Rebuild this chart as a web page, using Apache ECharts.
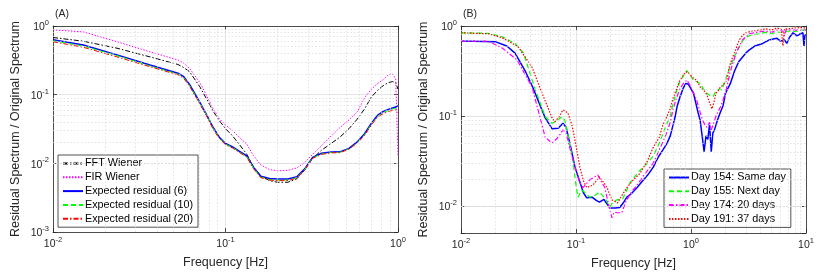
<!DOCTYPE html>
<html><head><meta charset="utf-8">
<script src="https://cdn.jsdelivr.net/npm/echarts@6/dist/echarts.min.js"></script>
<style>html,body{margin:0;padding:0;background:#fff}#c{width:822px;height:278px}</style>
</head><body><div id="c"></div><script>
// ---------- Panel A data ----------
const freqA = [0.01,0.015,0.0235,0.0365,0.053,0.057,0.062,0.071,0.078,0.085,0.092,0.1,0.11,0.12,0.133,0.145,0.16,0.18,0.2,0.23,0.26,0.29,0.32,0.36,0.41,0.46,0.52,0.58,0.64,0.7,0.76,0.82,0.88,0.93,0.97,1.0];
const fftWiener = [0.68,0.60,0.475,0.355,0.275,0.25,0.215,0.13,0.085,0.057,0.042,0.032,0.025,0.019,0.0135,0.009,0.0066,0.0056,0.0053,0.0053,0.006,0.0082,0.0118,0.0155,0.0195,0.024,0.032,0.044,0.062,0.092,0.115,0.135,0.15,0.155,0.15,0.12];
const firWiener = [0.88,0.82,0.59,0.42,0.32,0.29,0.24,0.15,0.095,0.062,0.045,0.036,0.03,0.024,0.019,0.013,0.0095,0.0081,0.0078,0.0079,0.0086,0.0105,0.0135,0.018,0.025,0.033,0.043,0.056,0.09,0.12,0.145,0.165,0.195,0.2,0.17,0.013];
const expRes6 = [0.63,0.53,0.38,0.27,0.205,0.185,0.14,0.077,0.05,0.033,0.024,0.0195,0.0173,0.015,0.0128,0.0088,0.0065,0.006,0.0059,0.0059,0.0064,0.0085,0.0122,0.014,0.0146,0.0147,0.0165,0.0205,0.027,0.038,0.05,0.057,0.061,0.064,0.066,0.07];
const expRes10 = [0.61,0.51,0.37,0.262,0.2,0.18,0.135,0.075,0.049,0.032,0.0235,0.019,0.017,0.0147,0.0125,0.0086,0.0063,0.0058,0.0057,0.0057,0.0062,0.0083,0.012,0.0137,0.0144,0.0145,0.0162,0.02,0.026,0.037,0.048,0.055,0.059,0.062,0.063,0.064];
const expRes20 = [0.59,0.49,0.355,0.255,0.195,0.175,0.132,0.073,0.048,0.031,0.023,0.0187,0.0167,0.0145,0.0123,0.0084,0.0062,0.0057,0.0056,0.0056,0.0061,0.0082,0.0118,0.0135,0.0142,0.0143,0.016,0.0197,0.0255,0.036,0.047,0.053,0.057,0.059,0.06,0.055];
const namesA = ['FFT Wiener','FIR Wiener','Expected residual (6)','Expected residual (10)','Expected residual (20)'];

// ---------- Panel B data ([frequency, ratio]) ----------
const day154 = [[0.01,0.68],[0.0198,0.67],[0.025,0.6],[0.0295,0.5],[0.036,0.32],[0.042,0.21],[0.0467,0.15],[0.054,0.095],[0.062,0.072],[0.07,0.073],[0.077,0.083],[0.082,0.075],[0.09,0.045],[0.098,0.027],[0.108,0.0185],[0.116,0.014],[0.124,0.0123],[0.138,0.0125],[0.15,0.0115],[0.16,0.011],[0.175,0.0118],[0.197,0.0095],[0.22,0.0095],[0.24,0.0096],[0.26,0.011],[0.277,0.0125],[0.3,0.0135],[0.34,0.016],[0.38,0.019],[0.42,0.022],[0.47,0.027],[0.52,0.035],[0.57,0.042],[0.62,0.05],[0.66,0.06],[0.7,0.08],[0.73,0.1],[0.76,0.13],[0.8,0.16],[0.85,0.2],[0.9,0.23],[0.95,0.225],[1.0,0.2],[1.05,0.18],[1.1,0.14],[1.15,0.11],[1.2,0.09],[1.25,0.06],[1.3,0.04],[1.35,0.06],[1.4,0.055],[1.45,0.08],[1.5,0.04],[1.55,0.065],[1.6,0.07],[1.7,0.09],[1.8,0.11],[1.9,0.13],[2.0,0.18],[2.2,0.23],[2.4,0.32],[2.6,0.4],[2.8,0.45],[3.0,0.5],[3.2,0.54],[3.6,0.6],[4.2,0.64],[4.8,0.7],[5.3,0.72],[5.6,0.73],[6.0,0.68],[6.5,0.7],[6.8,0.64],[7.2,0.75],[7.7,0.84],[8.3,0.78],[9.0,0.82],[9.4,0.84],[9.6,0.6],[9.8,0.8],[10,0.8]];
const day155 = [[0.01,0.84],[0.0172,0.83],[0.0228,0.76],[0.0295,0.64],[0.035,0.5],[0.044,0.2],[0.054,0.098],[0.062,0.083],[0.068,0.088],[0.075,0.098],[0.08,0.09],[0.088,0.05],[0.094,0.032],[0.1,0.017],[0.104,0.0125],[0.112,0.015],[0.12,0.014],[0.132,0.0125],[0.145,0.013],[0.16,0.0143],[0.18,0.012],[0.197,0.0098],[0.21,0.011],[0.227,0.0117],[0.255,0.012],[0.295,0.018],[0.35,0.024],[0.4,0.028],[0.47,0.036],[0.53,0.05],[0.6,0.075],[0.66,0.1],[0.7,0.14],[0.75,0.19],[0.8,0.24],[0.86,0.28],[0.92,0.32],[0.98,0.29],[1.05,0.25],[1.12,0.24],[1.2,0.23],[1.28,0.2],[1.37,0.18],[1.45,0.17],[1.56,0.165],[1.65,0.19],[1.75,0.2],[1.86,0.195],[2.0,0.26],[2.18,0.35],[2.4,0.47],[2.63,0.58],[2.8,0.68],[3.0,0.75],[3.4,0.8],[3.9,0.82],[4.5,0.85],[5.0,0.82],[5.6,0.86],[6.3,0.84],[7,0.88],[8,0.87],[9.4,0.9],[10,0.9]];
const day174 = [[0.01,0.68],[0.0172,0.68],[0.0228,0.57],[0.0307,0.42],[0.0414,0.21],[0.0465,0.12],[0.054,0.058],[0.062,0.05],[0.07,0.058],[0.077,0.07],[0.082,0.065],[0.09,0.04],[0.098,0.027],[0.108,0.018],[0.115,0.016],[0.132,0.0195],[0.155,0.022],[0.165,0.019],[0.178,0.016],[0.19,0.011],[0.205,0.0074],[0.215,0.0085],[0.227,0.0084],[0.25,0.0084],[0.27,0.011],[0.3,0.014],[0.35,0.018],[0.4,0.023],[0.47,0.03],[0.53,0.042],[0.6,0.06],[0.66,0.085],[0.7,0.12],[0.75,0.16],[0.8,0.2],[0.86,0.23],[0.92,0.25],[0.98,0.22],[1.05,0.18],[1.12,0.15],[1.2,0.11],[1.26,0.09],[1.32,0.08],[1.37,0.075],[1.45,0.085],[1.5,0.07],[1.56,0.08],[1.65,0.1],[1.8,0.126],[1.9,0.15],[2.05,0.21],[2.18,0.3],[2.3,0.38],[2.5,0.52],[2.8,0.7],[3.2,0.82],[3.9,0.86],[4.5,0.88],[5.0,0.85],[5.6,0.9],[6.3,0.88],[6.5,0.78],[6.7,0.9],[8,0.9],[9.4,0.9],[10,0.9]];
const day191 = [[0.01,0.84],[0.0172,0.82],[0.0228,0.74],[0.0313,0.59],[0.0414,0.35],[0.0506,0.18],[0.062,0.095],[0.0656,0.086],[0.072,0.1],[0.077,0.117],[0.085,0.108],[0.092,0.08],[0.098,0.054],[0.108,0.027],[0.116,0.019],[0.124,0.016],[0.14,0.017],[0.16,0.021],[0.175,0.018],[0.186,0.016],[0.205,0.0117],[0.23,0.0108],[0.25,0.013],[0.277,0.016],[0.31,0.019],[0.36,0.023],[0.42,0.032],[0.47,0.045],[0.53,0.058],[0.57,0.08],[0.62,0.1],[0.66,0.12],[0.7,0.16],[0.75,0.2],[0.8,0.25],[0.85,0.28],[0.9,0.31],[0.95,0.3],[1.0,0.28],[1.06,0.26],[1.12,0.25],[1.2,0.21],[1.3,0.19],[1.38,0.17],[1.45,0.14],[1.52,0.12],[1.58,0.14],[1.65,0.18],[1.72,0.19],[1.8,0.21],[1.9,0.22],[2.05,0.25],[2.15,0.35],[2.3,0.45],[2.45,0.55],[2.63,0.7],[2.8,0.78],[3.0,0.84],[3.4,0.88],[3.9,0.9],[4.5,0.93],[5.0,0.9],[5.6,0.95],[6.1,0.92],[6.3,0.6],[6.5,0.93],[7.1,0.93],[8,0.95],[9,0.96],[10,0.95]];
const namesB = ['Day 154: Same day','Day 155: Next day','Day 174: 20 days','Day 191: 37 days'];

const xTicksA = [0.01, 1], yTicksA = [0.001, 1];
const xTicksB = [0.01, 10], yTicksB = [0.005, 1];

// ---------- styling ----------
const FONT = '"Liberation Sans", Arial, Helvetica, sans-serif';
const AX = '#262626';
function logLabel(v){ const e=Math.log10(v), r=Math.round(e); if(Math.abs(e-r)>1e-6) return ''; return '{b|10}{s|'+r+'}'; }
const rich = {b:{fontSize:10.5,fontFamily:FONT,color:AX,padding:[3,0,0,0]}, s:{fontSize:7.5,fontFamily:FONT,color:AX,verticalAlign:'top'}};
function minorVals(lo,hi){ const out=[]; for(let k=-4;k<=2;k++){ for(let m=2;m<=9;m++){ const v=m*Math.pow(10,k); if(v>lo*1.0001 && v<hi*0.9999) out.push(v);} } return out; }

function mkAxis(gi, range, pos, main, name, nameGap){
  return {
    type:'log', logBase:10, gridIndex:gi, min:range[0], max:range[1], position:pos,
    axisLine:{show:true,onZero:false,lineStyle:{color:AX,width:0.8}},
    axisTick:{show:true,inside:true,length:4,lineStyle:{color:AX,width:0.8}},
    axisLabel:{show:main, formatter:logLabel, rich:rich, margin:4, showMinLabel:true, showMaxLabel:true},
    splitLine:{show:main, lineStyle:{color:'#dedede',width:0.8}},
    name: main? name : '', nameLocation:'middle', nameGap:nameGap,
    nameTextStyle:{fontFamily:FONT,fontSize:12.5,color:AX}
  };
}
function gridHelper(xi, yi, xr, yr){
  const d = minorVals(xr[0],xr[1]).map(v=>({xAxis:v})).concat(minorVals(yr[0],yr[1]).map(v=>({yAxis:v})));
  return {type:'line', xAxisIndex:xi, yAxisIndex:yi, data:[], silent:true, z:1,
    markLine:{silent:true, symbol:['none','none'], label:{show:false}, animation:false,
      lineStyle:{color:'#d8d8d8',width:0.7,type:[1.5,2]}, data:d}};
}
function ser(name, xi, yi, data, color, width, type){
  return {name, type:'line', xAxisIndex:xi, yAxisIndex:yi, data, showSymbol:false, symbol:'none',
    lineStyle:{color, width, type}, itemStyle:{color}, z:3, animation:false};
}
const zipA = arr => freqA.map((f,i)=>[f,arr[i]]);
const DD = [5,2,1.5,2];
function mkLegend(names, left, top){
  return {data:names, orient:'vertical', left, top, itemWidth:20, itemHeight:8, itemGap:2.8,
    padding:[3,5,3,4], backgroundColor:'#fff', borderColor:AX, borderWidth:0.8,
    itemStyle:{opacity:0, borderWidth:0, color:'rgba(0,0,0,0)', borderColor:'rgba(0,0,0,0)'},
    textStyle:{fontFamily:FONT,fontSize:10.8,color:'#000',padding:[0,0,0,-3]}, selectedMode:false};
}

const option = {
  animation:false,
  textStyle:{fontFamily:FONT},
  grid:[{left:53,top:26,width:345,height:206,show:false},{left:461,top:26,width:345,height:207,show:false}],
  xAxis:[mkAxis(0,xTicksA,'bottom',true,'Frequency [Hz]',24), mkAxis(0,xTicksA,'top',false,'',0),
         mkAxis(1,xTicksB,'bottom',true,'Frequency [Hz]',24), mkAxis(1,xTicksB,'top',false,'',0)],
  yAxis:[mkAxis(0,yTicksA,'left',true,'Residual Spectrum / Original Spectrum',31), mkAxis(0,yTicksA,'right',false,'',0),
         mkAxis(1,yTicksB,'left',true,'Residual Spectrum / Original Spectrum',31), mkAxis(1,yTicksB,'right',false,'',0)],
  legend:[mkLegend(namesA,58,155), mkLegend(namesB,664,169)],
  graphic:[
    {type:'text', left:55, top:9, style:{text:'(A)', font:'10.5px '+FONT, fill:AX}},
    {type:'text', left:463, top:9, style:{text:'(B)', font:'10.5px '+FONT, fill:AX}}
  ],
  series:[
    gridHelper(0,0,xTicksA,yTicksA),
    gridHelper(2,2,xTicksB,yTicksB),
    ser(namesA[0],0,0,zipA(fftWiener),'#000000',1,DD),
    ser(namesA[1],0,0,zipA(firWiener),'#ff00ff',1,[1.5,1.5]),
    ser(namesA[2],0,0,zipA(expRes6),'#0000ff',1.5,'solid'),
    ser(namesA[3],0,0,zipA(expRes10),'#00ff00',1,[5,3]),
    ser(namesA[4],0,0,zipA(expRes20),'#ff0000',1,DD),
    ser(namesB[0],2,2,day154,'#0000ff',1.5,'solid'),
    ser(namesB[1],2,2,day155,'#00ff00',1.2,[5,3]),
    ser(namesB[2],2,2,day174,'#ff00ff',1.2,DD),
    ser(namesB[3],2,2,day191,'#ff0000',1.2,[1.5,1.5])
  ]
};
const chart = echarts.init(document.getElementById('c'), null, {renderer:'canvas'});
chart.setOption(option);
</script></body></html>
